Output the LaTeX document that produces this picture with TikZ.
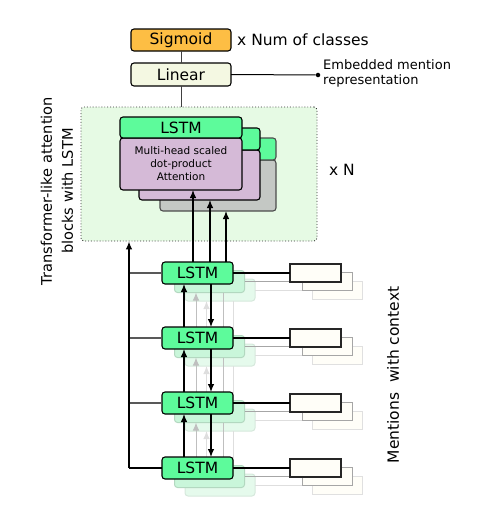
\documentclass[tikz,border=0pt]{standalone}
\usepackage{fontspec}
\setmainfont{DejaVu Sans}
\usetikzlibrary{arrows.meta,calc}
\definecolor{sigc}{HTML}{FDBE44}
\definecolor{linc}{HTML}{F4F8E2}
\definecolor{gbg}{HTML}{E6FAE4}
\definecolor{lstmc}{HTML}{5DFB9B}
\definecolor{attc}{HTML}{D5BAD7}
\definecolor{grayc}{HTML}{C4C8C4}
\definecolor{inpc}{HTML}{FFFEF8}
\definecolor{gha}{HTML}{C9F6DA}
\definecolor{ghad}{HTML}{B3D8C0}
\definecolor{ghb}{HTML}{E5FAEC}
\definecolor{ghbd}{HTML}{D6E8DC}
\begin{document}
\begin{tikzpicture}[x=1pt,y=-1pt,
  bx/.style={draw=black, line width=1.1pt, rounded corners=3pt, inner sep=0pt, outer sep=0pt},
  big/.style={font=\fontsize{15.5}{18}\selectfont},
  cell/.style={bx, fill=lstmc, minimum width=71pt, minimum height=22pt, big},
  inp/.style={draw=black!85, line width=1.1pt, fill=inpc, minimum width=51pt, minimum height=18pt, inner sep=0pt, outer sep=0pt},
  gacell/.style={draw=ghad, line width=1pt, rounded corners=3pt, fill=gha, minimum width=70pt, minimum height=22pt, inner sep=0pt, outer sep=0pt},
  gbcell/.style={draw=ghbd, line width=1pt, rounded corners=3pt, fill=ghb, minimum width=70pt, minimum height=22pt, inner sep=0pt, outer sep=0pt},
  gainp/.style={draw=black!35, line width=1pt, fill=inpc, minimum width=50pt, minimum height=18pt, inner sep=0pt, outer sep=0pt},
  gbinp/.style={draw=black!12, line width=1pt, fill=inpc, minimum width=50pt, minimum height=18pt, inner sep=0pt, outer sep=0pt},
  tip/.style={-{Latex[length=8pt,width=6.5pt]}},
  arr/.style={tip, line width=1.1pt},
  ln/.style={line width=1.1pt},
]
\useasboundingbox (0,0) rectangle (499,515);

% ---------- top part ----------
\node[bx, fill=sigc, minimum width=100pt, minimum height=22pt, big] (sig) at (181,40) {Sigmoid};
\node[bx, fill=linc, minimum width=100pt, minimum height=23pt, big] (lin) at (181,74.5) {Linear};
\node[anchor=west, inner sep=0pt, big] (xnum) at (237,40) {x Num of classes};
\node[circle, fill=black, inner sep=1.6pt] (dot) at (318,75) {};
\node[anchor=west, align=left, inner sep=0pt, font=\fontsize{13}{15}\selectfont] (emb) at (323,73.5) {Embedded mention\\representation};
\draw[line width=1pt, black!75] (sig) -- (lin);
\draw[line width=1pt] (lin.east) -- (dot);

% ---------- attention block ----------
\node[draw=black!80, dotted, line width=0.9pt, fill=gbg, rounded corners=3pt, minimum width=236pt, minimum height=134pt] (gbox) at (199,174) {};
\draw[line width=1pt, black!75] (lin.south) -- (lin.south |- gbox.north);
\node[big] (xN) at (342,170) {x N};

\node[bx, draw=black!70, fill=grayc, minimum width=116pt, minimum height=51pt] (a3) at (218,185.5) {};
\node[bx, draw=black!70, fill=lstmc, minimum width=116pt, minimum height=22pt] (t3) at (218,149) {};
\node[bx, fill=attc, minimum width=121pt, minimum height=50pt] (a2) at (199.5,175) {};
\node[bx, fill=lstmc, minimum width=121pt, minimum height=22pt] (t2) at (199.5,139) {};
\node[bx, fill=attc, minimum width=122pt, minimum height=52pt, align=center, font=\fontsize{10.5}{13}\selectfont] (a1) at (181,164) {Multi-head scaled\\dot-product\\Attention};
\node[bx, fill=lstmc, minimum width=122pt, minimum height=21pt, big] (t1) at (181,127.5) {LSTM};

% ---------- ghost layers ----------
\foreach \i/\y in {1/273,2/338,3/403,4/468} {
  \node[gbcell] (gb\i) at (220,\y+17) {};
  \node[gbinp] (gbi\i) at (337.5,\y+17) {};
  \draw[line width=1pt, black!13] (gb\i.east) -- (gbi\i.west);
}
\foreach \a/\b in {1/2,2/3,3/4} {
  \draw[tip, line width=1pt, black!13] ([xshift=-13.5pt]gb\b.north) -- ([xshift=-13.5pt]gb\a.south);
  \draw[line width=1pt, black!13] ([xshift=13.5pt]gb\a.south) -- ([xshift=13.5pt]gb\b.north);
}
\foreach \i/\y in {1/273,2/338,3/403,4/468} {
  \node[gacell] (ga\i) at (209.5,\y+8.5) {};
  \node[gainp] (gai\i) at (327,\y+8.5) {};
  \draw[line width=1pt, black!35] (ga\i.east) -- (gai\i.west);
}
\foreach \a/\b in {1/2,2/3,3/4} {
  \draw[tip, line width=1pt, black!25] ([xshift=-13.5pt]ga\b.north) -- ([xshift=-13.5pt]ga\a.south);
  \draw[line width=1pt, black!25] ([xshift=13.5pt]ga\a.south) -- ([xshift=13.5pt]ga\b.north);
}

% ---------- main LSTM column ----------
\foreach \i/\y in {1/273,2/338,3/403,4/468} {
  \node[cell] (l\i) at (197.5,\y) {LSTM};
  \node[inp] (in\i) at (315.5,\y) {};
  \draw[ln] (l\i.east) -- (in\i.west);
}
\foreach \a/\b in {1/2,2/3,3/4} {
  \draw[arr] ([xshift=-13.5pt]l\b.north) -- ([xshift=-13.5pt]l\a.south);
  \draw[arr] ([xshift=13.5pt]l\a.south) -- ([xshift=13.5pt]l\b.north);
}

% connections into the attention stack
\draw[arr] ([xshift=-4.5pt]l1.north) -- ([xshift=-4.5pt]l1.north |- a1.south);
\draw[arr] ([xshift=12.5pt]l1.north) -- ([xshift=12.5pt]l1.north |- a2.south);
\draw[arr] ([xshift=28.5pt]l1.north) -- ([xshift=28.5pt]l1.north |- a3.south);

% left skip line
\coordinate (lft) at (129,468);
\foreach \i in {1,2,3} {
  \draw[ln, black!65] (l\i.west) -- (l\i.west -| lft);
}
\draw[ln] (l4.west) -- (lft);
\draw[arr] (lft) -- (lft |- gbox.south);

% ---------- rotated labels ----------
\node[rotate=90, align=center, font=\fontsize{14.6}{21}\selectfont] (tlab) at (57,191) {Transformer-like attention\\blocks with LSTM};
\node[rotate=90, font=\fontsize{15.5}{18}\selectfont] (mlab) at (393,375) {Mentions\ \ with context};
\end{tikzpicture}
\end{document}
